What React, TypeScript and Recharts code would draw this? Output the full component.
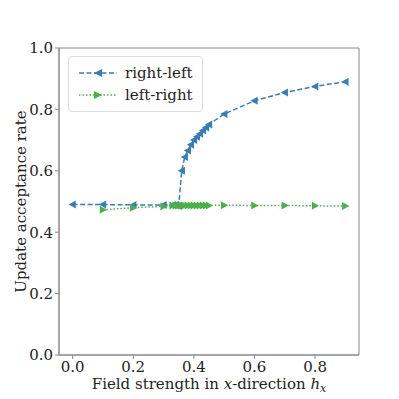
import React from "react";
import {
  LineChart,
  Line,
  XAxis,
  YAxis,
  ReferenceArea,
  Label,
} from "recharts";

const fieldRL = [0, 0.1, 0.2, 0.3, 0.33, 0.34, 0.35, 0.36, 0.37, 0.38, 0.39, 0.4, 0.41, 0.42, 0.43, 0.44, 0.45, 0.5, 0.6, 0.7, 0.8, 0.9];
const rateRL = [0.49, 0.49, 0.489, 0.489, 0.489, 0.489, 0.485, 0.6, 0.645, 0.666, 0.685, 0.7, 0.711, 0.721, 0.731, 0.741, 0.751, 0.785, 0.828, 0.855, 0.875, 0.89];

const fieldLR = [0.1, 0.2, 0.3, 0.33, 0.34, 0.35, 0.36, 0.37, 0.38, 0.39, 0.4, 0.41, 0.42, 0.43, 0.44, 0.45, 0.5, 0.6, 0.7, 0.8, 0.9];
const rateLR = [0.473, 0.48, 0.484, 0.487, 0.487, 0.487, 0.487, 0.487, 0.487, 0.487, 0.487, 0.487, 0.487, 0.487, 0.487, 0.487, 0.488, 0.487, 0.487, 0.486, 0.485];

const xTicks = [0, 0.2, 0.4, 0.6, 0.8];
const yTicks = [0, 0.2, 0.4, 0.6, 0.8, 1.0];

const BLUE = "#377eb8";
const GREEN = "#4daf4a";
const FONT = "DejaVu Serif";

const rlData = fieldRL.map((x, i) => ({ x, y: rateRL[i] }));
const lrData = fieldLR.map((x, i) => ({ x, y: rateLR[i] }));

function LeftTri(props: any) {
  const { cx, cy } = props;
  if (cx == null || cy == null) return null;
  const r = 4;
  return (
    <polygon
      points={`${cx - r},${cy} ${cx + r * 0.8},${cy - r} ${cx + r * 0.8},${cy + r}`}
      fill={BLUE}
    />
  );
}

function RightTri(props: any) {
  const { cx, cy } = props;
  if (cx == null || cy == null) return null;
  const r = 4;
  return (
    <polygon
      points={`${cx + r},${cy} ${cx - r * 0.8},${cy - r} ${cx - r * 0.8},${cy + r}`}
      fill={GREEN}
    />
  );
}

function LegendBox() {
  return (
    <div
      style={{
        position: "absolute",
        left: 68,
        top: 56,
        border: "1px solid #ddd",
        borderRadius: 4,
        background: "#fff",
        padding: "5px 9px 5px 0",
        fontFamily: FONT,
        fontSize: 15,
        color: "#222",
        whiteSpace: "nowrap",
      }}
    >
      {[
        { name: "right-left", color: BLUE, dash: "5 2.5", shape: "l" },
        { name: "left-right", color: GREEN, dash: "1.5 2", shape: "r" },
      ].map((it) => (
        <div key={it.name} style={{ display: "flex", alignItems: "center", height: 22 }}>
          <svg width={48} height={14} style={{ marginLeft: 8, flexShrink: 0 }}>
            <line x1={2} y1={7} x2={40} y2={7} stroke={it.color} strokeWidth={1.5} strokeDasharray={it.dash} />
            {it.shape === "l" ? (
              <polygon points="17,7 25,3 25,11" fill={it.color} />
            ) : (
              <polygon points="25,7 17,3 17,11" fill={it.color} />
            )}
          </svg>
          <span>{it.name}</span>
        </div>
      ))}
    </div>
  );
}

function XLabel(props: any) {
  const { viewBox } = props;
  const cx = viewBox.x + viewBox.width / 2;
  return (
    <text x={cx} y={389} textAnchor="middle" fontFamily={FONT} fontSize={15} fill="#222">
      Field strength in <tspan fontStyle="italic">x</tspan>-direction{" "}
      <tspan fontStyle="italic">h</tspan>
      <tspan fontStyle="italic" fontSize={11} dy={3}>x</tspan>
    </text>
  );
}

export default function App() {
  return (
    <div style={{ position: "absolute", left: 0, top: 0, width: 399, height: 399, background: "#fff" }}>
      <LineChart width={399} height={399} margin={{ top: 48, right: 40, left: 0, bottom: 0 }}>
        <XAxis
          dataKey="x"
          type="number"
          domain={[-0.045, 0.945]}
          ticks={xTicks}
          tickFormatter={(v: number) => v.toFixed(1)}
          height={44}
          stroke="#888"
          tickSize={4}
          tick={{ fill: "#222", fontFamily: FONT, fontSize: 15 }}
          interval={0}
          allowDuplicatedCategory={false}
        >
          <Label content={<XLabel />} />
        </XAxis>
        <YAxis
          type="number"
          domain={[0, 1]}
          ticks={yTicks}
          tickFormatter={(v: number) => v.toFixed(1)}
          width={59}
          stroke="#888"
          tickSize={4}
          interval={0}
          tick={{ fill: "#222", fontFamily: FONT, fontSize: 15 }}
        >
          <Label
            value="Update acceptance rate"
            angle={-90}
            position="insideLeft"
            offset={2}
            style={{ textAnchor: "middle", fontFamily: FONT, fontSize: 15, fill: "#222" }}
            dx={19}
          />
        </YAxis>
        <ReferenceArea x1={-0.045} x2={0.945} y1={0} y2={1} fill="none" stroke="#888" strokeWidth={1} ifOverflow="visible" />
        <Line
          data={rlData}
          dataKey="y"
          name="right-left"
          stroke={BLUE}
          strokeWidth={1.5}
          strokeDasharray="5 2.5"
          dot={<LeftTri />}
          activeDot={false}
          isAnimationActive={false}
        />
        <Line
          data={lrData}
          dataKey="y"
          name="left-right"
          stroke={GREEN}
          strokeWidth={1.5}
          strokeDasharray="1.5 2"
          dot={<RightTri />}
          activeDot={false}
          isAnimationActive={false}
        />
      </LineChart>
      <LegendBox />
    </div>
  );
}
